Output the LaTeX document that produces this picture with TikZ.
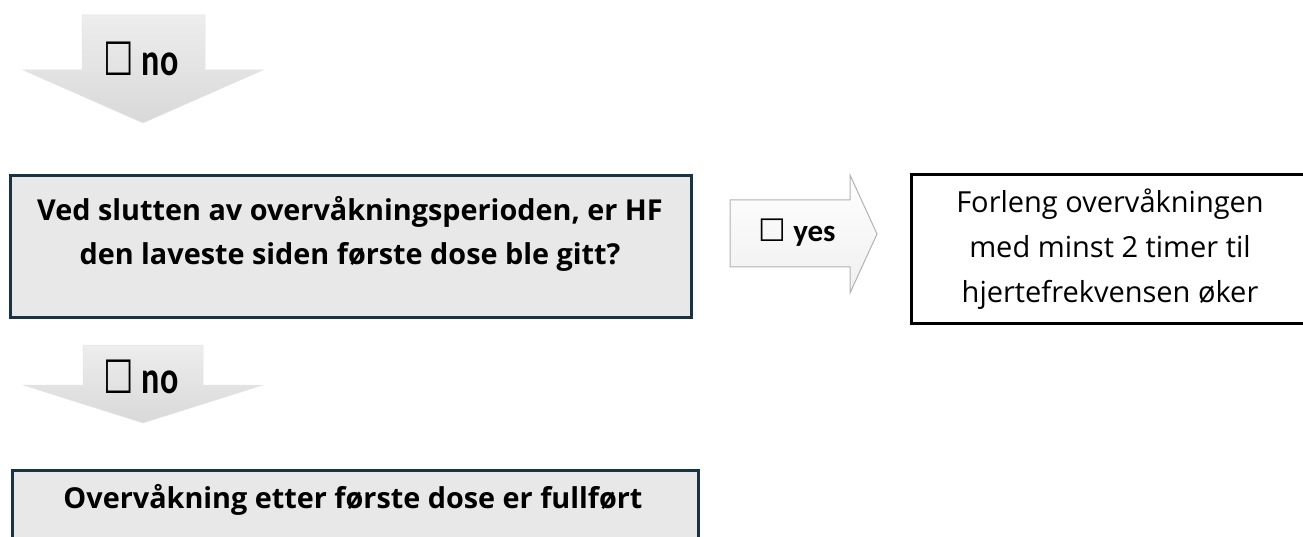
\documentclass[tikz,border=0pt]{standalone}
\usepackage{fontspec}
\setmainfont{Open Sans}
\newfontfamily\labelfont{Carlito}
\newfontfamily\symfont{DejaVu Sans}
\usetikzlibrary{positioning}
\definecolor{boxgray}{HTML}{E8E8E8}
\definecolor{boxnavy}{HTML}{1B3245}
\begin{document}
\begin{tikzpicture}[x=1pt,y=-1pt,
  question/.style={draw=boxnavy,fill=boxgray,line width=3pt,inner sep=0pt},
  action/.style={draw=black,fill=white,line width=3pt,inner sep=0pt},
  qtext/.style={align=center,font=\bfseries\fontsize{28.8}{44}\selectfont},
  atext/.style={align=center,font=\fontsize{29}{45}\selectfont},
  downarrow/.style={top color=black!7,bottom color=black!15,draw=black!10,line width=0.5pt},
  rightarrow/.style={top color=white,bottom color=black!6,draw=black!30,line width=1pt},
  nolabel/.style={font=\labelfont\bfseries\fontsize{46}{46}\selectfont,xscale=0.74,transform shape},
  yeslabel/.style={font=\labelfont\bfseries\fontsize{31}{31}\selectfont}]
  \useasboundingbox (0,0) rectangle (1303,537);
  \clip (0,0) rectangle (1303,537);

  % første pil ned
  \draw[downarrow] (82,15) -- (205,15) -- (205,70) -- (263,70) -- (143,123)
    -- (23,70) -- (82,70) -- cycle;
  \node[nolabel] (no1) at (141,59) {{\symfont ☐} no};

  % spørsmål
  \node[question,minimum width=681,minimum height=142] (ask) at (350.5,246.5) {};
  \node[qtext] (asktext) at (350,234)
    {Ved slutten av overvåkningsperioden, er HF\\den laveste siden første dose ble gitt?};

  % pil mot høyre
  \draw[rightarrow] (730,200) -- (850,200) -- (850,175) -- (877,234)
    -- (850,293) -- (850,267) -- (730,267) -- cycle;
  \node[yeslabel] (yes) at (797,233) {{\symfont ☐} yes};

  % forleng overvåkningen
  \node[action,anchor=north west,minimum width=500,minimum height=148] (extend) at (909.5,173.5) {};
  \node[atext] (extendtext) at (1110,249)
    {Forleng overvåkningen\\med minst 2 timer til\\hjertefrekvensen øker};

  % andre pil ned
  \draw[downarrow] (83,345) -- (203,345) -- (203,385) -- (263,385) -- (143,423)
    -- (23,385) -- (83,385) -- cycle;
  \node[nolabel] (no2) at (141,377) {{\symfont ☐} no};

  % fullført
  \node[question,anchor=north west,minimum width=686,minimum height=120] (done) at (10.5,468.5) {};
  \node[qtext] (donetext) at (353,500) {Overvåkning etter første dose er fullført};
\end{tikzpicture}
\end{document}
